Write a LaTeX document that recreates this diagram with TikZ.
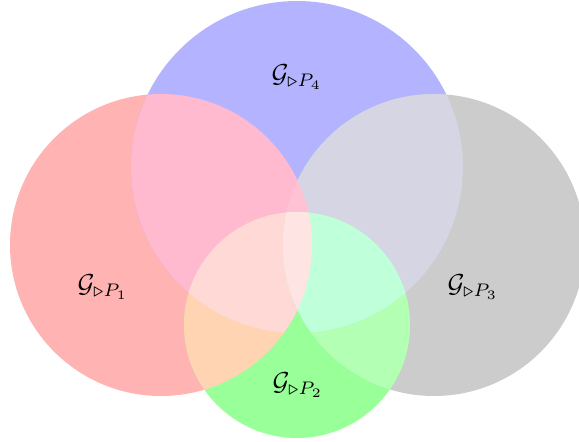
\documentclass[tikz,border=0pt]{standalone}
\definecolor{cR}{RGB}{255,179,179}
\definecolor{cB}{RGB}{179,179,255}
\definecolor{cGy}{RGB}{204,204,204}
\definecolor{cG}{RGB}{153,255,153}
\definecolor{cRB}{RGB}{255,186,208}
\definecolor{cBGy}{RGB}{213,213,228}
\definecolor{cRBGy}{RGB}{255,194,213}
\definecolor{cRG}{RGB}{255,212,179}
\definecolor{cGyG}{RGB}{179,255,179}
\definecolor{cRBG}{RGB}{255,217,214}
\definecolor{cBGyG}{RGB}{191,255,217}
\definecolor{cAll}{RGB}{255,228,228}
\begin{document}
\begin{tikzpicture}[x=0.385pt,y=-0.385pt,
  lbl/.style={inner sep=0pt}]
\useasboundingbox (0,0) rectangle (579,441);
\def\pR{(161,245) circle[radius=151]}
\def\pB{(297,167) circle[radius=166]}
\def\pGy{(434,245) circle[radius=151]}
\def\pG{(297,325) circle[radius=113]}
\fill[cR] \pR;
\fill[cB] \pB;
\fill[cGy] \pGy;
\fill[cG] \pG;
\begin{scope}\clip \pR; \fill[cRB] \pB; \end{scope}
\begin{scope}\clip \pB; \fill[cBGy] \pGy; \end{scope}
\begin{scope}\clip \pR; \fill[cRBGy] \pGy; \end{scope}
\begin{scope}\clip \pR; \fill[cRG] \pG; \end{scope}
\begin{scope}\clip \pGy; \fill[cGyG] \pG; \end{scope}
\begin{scope}\clip \pR; \clip \pB; \fill[cRBG] \pG; \end{scope}
\begin{scope}\clip \pB; \clip \pGy; \fill[cBGyG] \pG; \end{scope}
\begin{scope}\clip \pR; \clip \pGy; \fill[cAll] \pG; \end{scope}
\node[lbl] (l4) at (297,77) {$\mathcal{G}_{\triangleright P_4}$};
\node[lbl] (l1) at (103,287) {$\mathcal{G}_{\triangleright P_1}$};
\node[lbl] (l2) at (298,385) {$\mathcal{G}_{\triangleright P_2}$};
\node[lbl] (l3) at (473,287) {$\mathcal{G}_{\triangleright P_3}$};
\end{tikzpicture}
\end{document}
